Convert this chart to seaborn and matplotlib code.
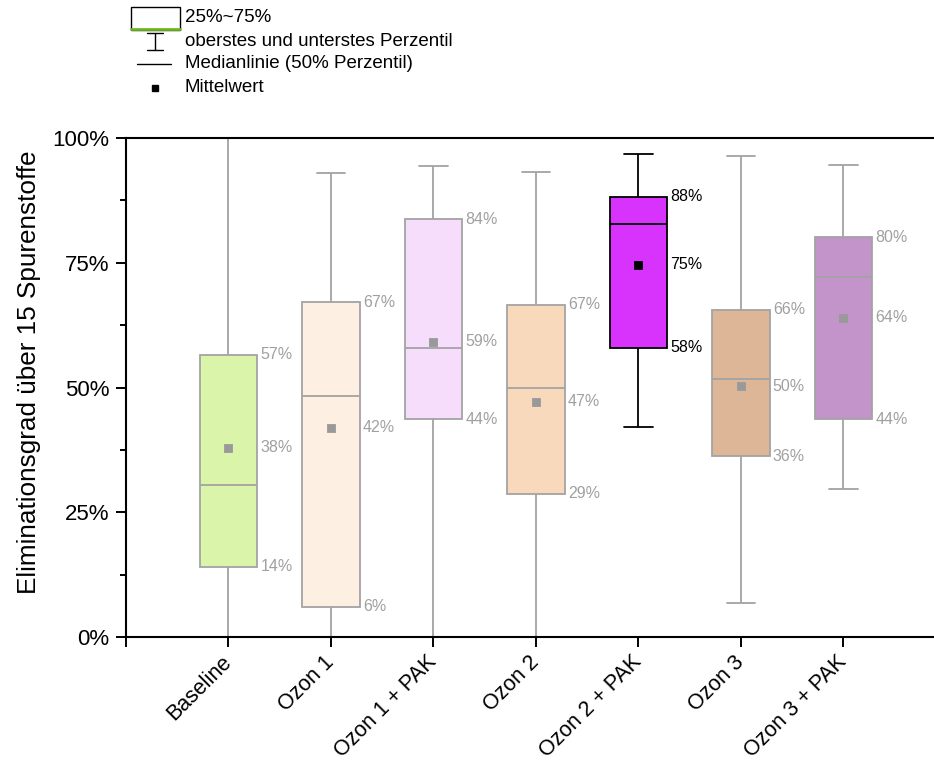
import numpy as np
import pandas as pd
import matplotlib
matplotlib.use('Agg')
import matplotlib.pyplot as plt
import matplotlib.transforms as mtransforms
import seaborn as sns
from matplotlib.patches import Rectangle
from matplotlib.lines import Line2D

# Data (percent)
groups  = ['Baseline', 'Ozon 1', 'Ozon 1 + PAK', 'Ozon 2', 'Ozon 2 + PAK', 'Ozon 3', 'Ozon 3 + PAK']
p_low   = [0.0, 0.0, 0.0, 0.0, 42.0, 6.9, 29.6]
p_q1    = [14.1, 6.1, 43.6, 28.7, 58.0, 36.2, 43.6]
p_med   = [30.5, 48.2, 57.9, 49.9, 82.7, 51.8, 72.1]
p_q3    = [56.6, 67.1, 83.7, 66.6, 88.2, 65.6, 80.1]
p_high  = [99.9, 92.9, 94.3, 93.2, 96.7, 96.3, 94.6]
means   = [37.9, 41.9, 59.2, 47.1, 74.6, 50.3, 64.0]

box_colors  = ['#daf5a9', '#fdefe2', '#f6ddfc', '#f9d9bb', '#d733fc', '#ddb697', '#c294c9']
edge_colors = ['#a3a3a3', '#a3a3a3', '#a3a3a3', '#a3a3a3', '#000000', '#a3a3a3', '#a3a3a3']
mean_colors = ['#999999', '#999999', '#999999', '#999999', '#000000', '#999999', '#999999']
label_colors = ['#a0a0a0', '#a0a0a0', '#a0a0a0', '#a0a0a0', '#000000', '#a0a0a0', '#a0a0a0']

# five points per group -> quartiles / whiskers come out exactly with whis=(0, 100)
df = pd.DataFrame({
    'group': np.repeat(groups, 5),
    'value': np.column_stack([p_low, p_q1, p_med, p_q3, p_high]).ravel(),
})

sns.set_style('ticks')
plt.rcParams['font.family'] = ['Liberation Sans', 'DejaVu Sans']
plt.rcParams.update({'text.color': 'black', 'axes.labelcolor': 'black',
                     'xtick.color': 'black', 'ytick.color': 'black'})

W, H = 934, 763
fig = plt.figure(figsize=(W / 100, H / 100), dpi=100)
ax = fig.add_axes([126 / W, 1 - 637 / H, (946 - 126) / W, (637 - 138) / H])

sns.boxplot(data=df, x='group', y='value', hue='group', order=groups,
            palette=box_colors, saturation=1, width=0.56, whis=(0, 100),
            showfliers=False, linecolor='#a3a3a3', linewidth=1.3,
            legend=False, ax=ax)

for cont, ec in zip(ax.containers, edge_colors):
    for art in cont.boxes:
        art.set_edgecolor(ec)
    for art in list(cont.medians) + list(cont.whiskers) + list(cont.caps):
        art.set_color(ec)

sns.pointplot(x=groups, y=means, hue=groups, order=groups, palette=mean_colors,
              marker='s', linestyle='none', markersize=3.8, errorbar=None,
              legend=False, ax=ax, zorder=6)

# percentage labels right of each box
for i in range(len(groups)):
    for v in (p_q3[i], means[i], p_q1[i]):
        ax.text(i + 0.31, v, f'{v:.0f}%', color=label_colors[i], fontsize=11.5,
                va='center', ha='left')

ax.set_xlim(-1, 7)
ax.set_ylim(0, 100)
ax.set_xticks(range(-1, 7))
ax.set_xticklabels([''] + groups, rotation=45, ha='right', va='center',
                   rotation_mode='anchor', fontsize=15.5)
shift = mtransforms.ScaledTranslation(0.13, 0, fig.dpi_scale_trans)
for lab in ax.get_xticklabels():
    lab.set_transform(lab.get_transform() + shift)
ax.set_yticks([0, 25, 50, 75, 100])
ax.set_yticks([12.5, 37.5, 62.5, 87.5], minor=True)
ax.set_yticklabels(['0%', '25%', '50%', '75%', '100%'], fontsize=16)
ax.set_xlabel('')
ax.set_ylabel('Eliminationsgrad über 15 Spurenstoffe', fontsize=18.8)
ax.yaxis.set_label_coords(-0.104, 0.531)
ax.tick_params(axis='both', which='major', length=7, width=1.4, color='black')
ax.tick_params(axis='x', pad=9)
ax.tick_params(axis='y', which='major', pad=5)
ax.tick_params(axis='y', which='minor', length=4.5, width=1.4)
for s in ['left', 'bottom', 'top']:
    ax.spines[s].set_linewidth(1.5)
    ax.spines[s].set_color('black')
ax.spines['right'].set_visible(False)

# hand-drawn key above the plot (figure pixel coords)
def fx(px):
    return px / W

def fy(py):
    return 1 - py / H

fig.add_artist(Rectangle((fx(131), fy(30)), fx(49), 23 / H, transform=fig.transFigure,
                         facecolor='white', edgecolor='black', lw=1.0))
fig.add_artist(Line2D([fx(131), fx(180)], [fy(29), fy(29)], transform=fig.transFigure,
                      color='#6cb820', lw=2.0))
fig.add_artist(Line2D([fx(155), fx(155)], [fy(33), fy(50)], transform=fig.transFigure,
                      color='black', lw=1.0))
for yy in (33, 50):
    fig.add_artist(Line2D([fx(147), fx(163)], [fy(yy), fy(yy)], transform=fig.transFigure,
                          color='black', lw=1.0))
fig.add_artist(Line2D([fx(137), fx(171)], [fy(64), fy(64)], transform=fig.transFigure,
                      color='black', lw=1.0))
fig.add_artist(Line2D([fx(155)], [fy(88)], transform=fig.transFigure, marker='s',
                      markersize=4, color='black', lw=0))
key_texts = ['25%~75%', 'oberstes und unterstes Perzentil',
             'Medianlinie (50% Perzentil)', 'Mittelwert']
for t, yy in zip(key_texts, (17, 41, 64, 88)):
    fig.text(fx(185), fy(yy), t, fontsize=13.5, va='center', ha='left')

fig.savefig('out.png', dpi=100)
